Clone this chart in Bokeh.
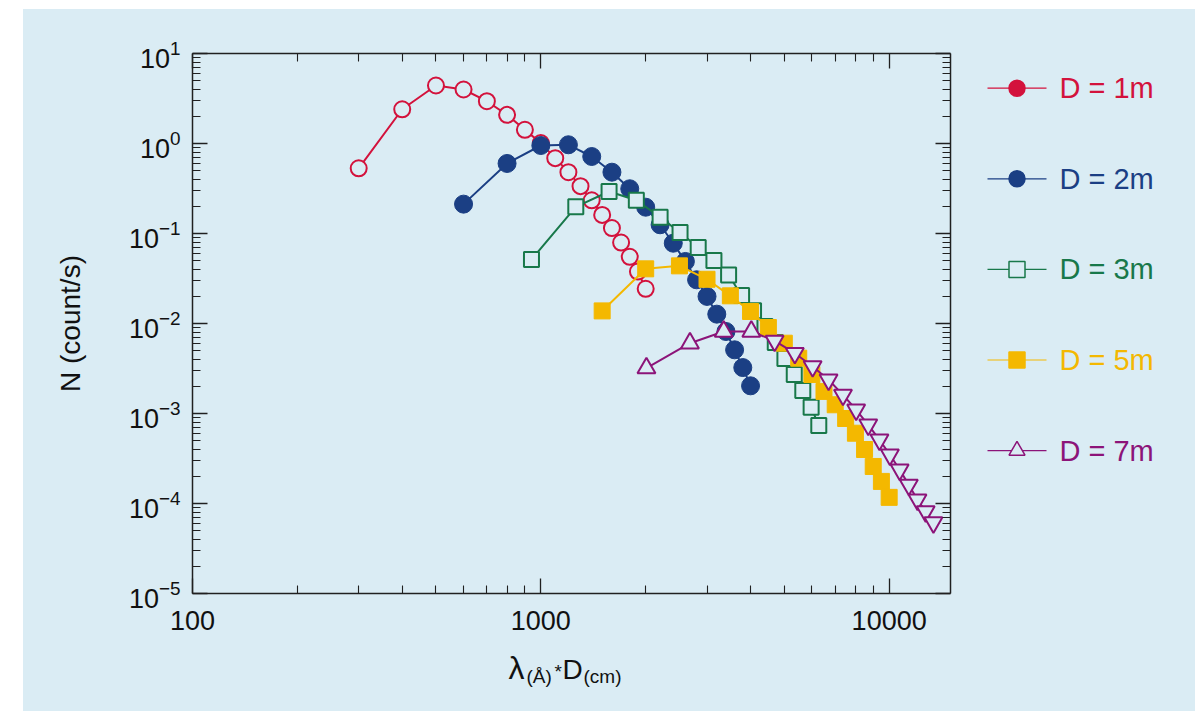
from bokeh.plotting import figure
from bokeh.models import (Range1d, LogAxis, FixedTicker, BasicTickFormatter,
                          CustomJSTickFormatter, ColumnDataSource, Spacer)
from bokeh.layouts import row, column
from bokeh.core.properties import value
from bokeh.embed import file_html
from bokeh.resources import INLINE

# ---------------- data ----------------
x_1m = [300, 400, 500, 600, 700, 800, 900, 1000, 1100, 1200, 1300, 1400,
        1500, 1600, 1700, 1800, 1900, 2000]
n_1m = [0.53, 2.40, 4.41, 3.98, 2.95, 2.08, 1.42, 1.01, 0.687, 0.480, 0.336,
        0.234, 0.161, 0.115, 0.0794, 0.0551, 0.0378, 0.0243]

x_2m = [600, 800, 1000, 1200, 1400, 1600, 1800, 2000, 2200, 2400, 2600, 2800,
        3000, 3200, 3400, 3600, 3800, 4000]
n_2m = [0.212, 0.600, 0.950, 0.968, 0.717, 0.480, 0.314, 0.196, 0.125, 0.078,
        0.0489, 0.0306, 0.0200, 0.0127, 0.00815, 0.0051, 0.00324, 0.00203]

x_3m = [940, 1260, 1570, 1880, 2200, 2510, 2830, 3140, 3460, 3770, 4080, 4400,
        4710, 5020, 5340, 5650, 5970, 6280]
n_3m = [0.0514, 0.198, 0.293, 0.234, 0.152, 0.1026, 0.0699, 0.0500, 0.0346,
        0.0205, 0.0139, 0.00926, 0.00615, 0.00408, 0.00271, 0.00180, 0.00117,
        0.000735]

x_5m = [1500, 2000, 2500, 3000, 3500, 4000, 4500, 5000, 5500, 6000, 6500, 7000,
        7500, 8000, 8500, 9000, 9500, 10000]
n_5m = [0.0138, 0.0405, 0.0437, 0.0310, 0.0203, 0.0136, 0.00903, 0.00604,
        0.00412, 0.00271, 0.00176, 0.00125, 0.00088, 0.000604, 0.000398,
        0.000258, 0.000176, 0.000117]

x_7m = [2010, 2680, 3350, 4020, 4690, 5360, 6030, 6700, 7370, 8040, 8710, 9380,
        10050, 10720, 11390, 12060, 12730, 13400]
n_7m = [0.00319, 0.00604, 0.00815, 0.00815, 0.00642, 0.00468, 0.00333, 0.00237,
        0.00161, 0.0011, 0.000749, 0.00051, 0.000348, 0.000237, 0.000161,
        0.00011, 0.0000815, 0.0000615]

legend_labels = ["D = 1m", "D = 2m", "D = 3m", "D = 5m", "D = 7m"]
x_major = [100, 1000, 10000]
y_major = [1e-5, 1e-4, 1e-3, 1e-2, 1e-1, 1, 10]
y_title = "N (count/s)"
x_title_parts = ["λ", "(Å)", "*", "D", "(cm)"]

# ---------------- style ----------------
BG = "#daecf4"
RED = "#d3123c"
NAVY = "#1b3f84"
GREEN = "#18784a"
GOLD = "#f4b800"
PURPLE = "#8c1479"
AX = "#202020"
TXT = "#111111"
FONT = "Liberation Sans"

LEFT, FRAME_W, RIGHT = 169, 758, 10
TOP, FRAME_H, BOTTOM = 44, 540, 58
MAIN_W = LEFT + FRAME_W + RIGHT
MAIN_H = TOP + FRAME_H + BOTTOM
TOTAL_H = 702
XLAB_H = TOTAL_H - MAIN_H
LEG_W = 235

p = figure(width=MAIN_W, height=MAIN_H, x_axis_type="log", y_axis_type="log",
           x_range=Range1d(100, 15000), y_range=Range1d(1e-5, 10),
           output_backend="svg", toolbar_location=None, title=None,
           min_border_left=LEFT, min_border_right=RIGHT,
           min_border_top=TOP, min_border_bottom=BOTTOM)
p.background_fill_color = BG
p.border_fill_color = BG
p.outline_line_color = None
p.grid.visible = False

x_minor = [m * d for d in (100, 1000) for m in range(2, 10)]
y_minor = [m * 10.0 ** e for e in range(-5, 1) for m in range(2, 10)]
xt = FixedTicker(ticks=x_major, minor_ticks=x_minor)
yt = FixedTicker(ticks=y_major, minor_ticks=y_minor)


def style_axis(ax):
    ax.axis_line_color = AX
    ax.axis_line_width = 1.5
    ax.major_tick_in = 15
    ax.major_tick_out = 0
    ax.minor_tick_in = 8
    ax.minor_tick_out = 0
    ax.major_tick_line_color = AX
    ax.minor_tick_line_color = AX
    ax.major_tick_line_width = 1.3
    ax.minor_tick_line_width = 1.1
    ax.major_label_text_font = FONT
    ax.major_label_text_font_size = "27px"
    ax.major_label_text_color = TXT


xa = p.xaxis[0]
xa.ticker = xt
xa.formatter = BasicTickFormatter(use_scientific=False)
style_axis(xa)
xa.major_label_standoff = 17

ya = p.yaxis[0]
ya.ticker = yt
style_axis(ya)
ya.major_label_standoff = 12
ya.axis_label = y_title
ya.axis_label_text_font = FONT
ya.axis_label_text_font_size = "28px"
ya.axis_label_text_font_style = "normal"
ya.axis_label_text_color = TXT
ya.axis_label_standoff = 40

blank = CustomJSTickFormatter(code="return ''")
top = LogAxis(ticker=xt, formatter=blank)
style_axis(top)
right = LogAxis(ticker=yt, formatter=blank)
style_axis(right)
p.add_layout(top, "above")
p.add_layout(right, "right")

# ---------------- series ----------------
p.line(x_1m, n_1m, line_color=RED, line_width=2)
p.scatter(x_1m, n_1m, marker="circle", size=16, line_color=RED, line_width=2,
          fill_color=BG)

p.line(x_2m, n_2m, line_color=NAVY, line_width=2)
p.scatter(x_2m, n_2m, marker="circle", size=18, line_color=NAVY,
          fill_color=NAVY)

p.line(x_3m, n_3m, line_color=GREEN, line_width=2)
p.scatter(x_3m, n_3m, marker="square", size=15, line_color=GREEN,
          line_width=2, fill_color=BG)

p.line(x_5m, n_5m, line_color=GOLD, line_width=2)
p.scatter(x_5m, n_5m, marker="square", size=16, line_color=GOLD,
          fill_color=GOLD)

peak7 = n_7m.index(max(n_7m))
tri_kind = ["triangle" if i <= peak7 + 1 else "inverted_triangle"
            for i in range(len(x_7m))]
src7 = ColumnDataSource(dict(x=x_7m, y=n_7m, m=tri_kind))
p.line(x_7m, n_7m, line_color=PURPLE, line_width=2)
p.scatter("x", "y", source=src7, marker="m", size=18, line_color=PURPLE,
          line_width=2, fill_color=BG)


def blank_fig(w, h, left=0, right=0):
    f = figure(width=w, height=h, x_range=Range1d(0, w - left - right),
               y_range=Range1d(h, 0),
               output_backend="svg", toolbar_location=None, title=None,
               x_axis_type=None, y_axis_type=None, min_border=0,
               min_border_left=left, min_border_right=right, min_border_top=0,
               min_border_bottom=0)
    f.background_fill_color = BG
    f.border_fill_color = BG
    f.outline_line_color = None
    f.grid.visible = False
    return f


# ---------------- x axis title (with subscripts) ----------------
# x measured from the left edge of the plot frame; y from the top of strip
xl = blank_fig(MAIN_W, XLAB_H, LEFT, RIGHT)
part_x = [316, 334, 362, 370, 391]
part_y = [16.5, 24.5, 20.0, 17.5, 24.5]
part_size = ["32px", "19px", "19px", "28px", "19px"]
for t, px, py, fs in zip(x_title_parts, part_x, part_y, part_size):
    xl.text(x=[px], y=[py], text=[t], text_font=value(FONT),
            text_font_size=value(fs), text_color=TXT,
            text_baseline="middle", text_align="left")

# ---------------- legend panel ----------------
lg = blank_fig(LEG_W, TOTAL_H)
leg_colors = [RED, NAVY, GREEN, GOLD, PURPLE]
leg_markers = ["circle", "circle", "square", "square", "triangle"]
leg_fill = [RED, NAVY, BG, GOLD, BG]
leg_y = [78.7 + 90.6 * i for i in range(len(legend_labels))]
lsrc = ColumnDataSource(dict(y=leg_y, lab=legend_labels, c=leg_colors,
                             m=leg_markers, f=leg_fill))
lg.segment(x0=27, x1=86, y0="y", y1="y", line_color="c", line_width=1.2,
           source=lsrc)
lg.scatter(x=56.5, y="y", marker="m", size=16, line_color="c", fill_color="f",
           line_width=1.5, source=lsrc)
lg.text(x=99, y="y", text="lab", text_color="c", text_font=value(FONT),
        text_font_size="29px", text_baseline="middle", text_align="left",
        source=lsrc)

content = row(column(p, xl, styles={"background-color": BG}), lg,
              styles={"background-color": BG})
layout = column(Spacer(height=9), row(Spacer(width=23), content))
open("out.html", "w").write(file_html(layout, INLINE))
